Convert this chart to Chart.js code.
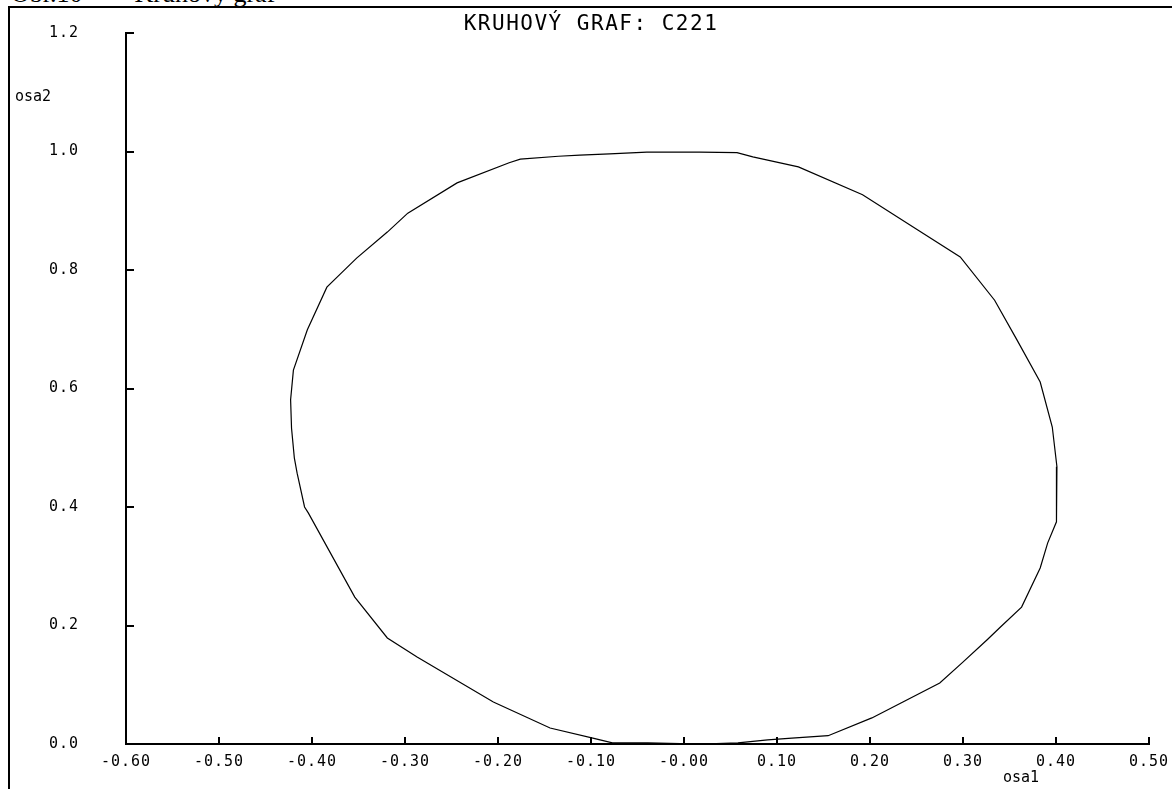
<!DOCTYPE html>
<html><head><meta charset="utf-8">
<script src="https://cdn.jsdelivr.net/npm/chart.js@4"></script>
<style>
html,body{margin:0;padding:0;background:#fff;overflow:hidden;}
#wrap{position:relative;width:1172px;height:789px;overflow:hidden;background:#fff;}
#frame{position:absolute;left:8px;top:6px;right:-10px;bottom:-10px;border-left:2px solid #000;border-top:2px solid #000;}
#caption{position:absolute;left:11px;top:-19px;font:26px 'Liberation Serif',serif;line-height:26px;white-space:pre;color:#000;}
canvas{position:absolute;left:0;top:0;}
</style></head><body>
<div id="wrap"><div id="caption">Obr.10    –  Kruhový graf</div><div id="frame"></div><canvas id="c" width="1172" height="789"></canvas></div>
<script>
const xValues = [0.017,0.057,0.074,0.123,0.192,0.251,0.297,0.334,0.358,0.383,0.396,0.401,0.401,0.400,0.391,0.383,0.363,0.340,0.326,0.299,0.275,0.202,0.155,0.116,0.090,0.058,0.019,-0.039,-0.077,-0.098,-0.144,-0.205,-0.287,-0.319,-0.354,-0.404,-0.408,-0.416,-0.419,-0.422,-0.423,-0.420,-0.405,-0.384,-0.373,-0.352,-0.319,-0.297,-0.244,-0.188,-0.176,-0.135,-0.112,-0.080,-0.040];
const yValues = [0.999,0.998,0.991,0.974,0.927,0.868,0.822,0.749,0.682,0.611,0.535,0.468,0.420,0.375,0.339,0.297,0.231,0.197,0.176,0.137,0.103,0.044,0.014,0.010,0.007,0.002,0.000,0.002,0.002,0.010,0.027,0.071,0.147,0.179,0.248,0.390,0.400,0.457,0.483,0.533,0.581,0.631,0.699,0.771,0.788,0.820,0.864,0.896,0.947,0.981,0.987,0.992,0.994,0.996,0.999];
const xTickLabels = ["-0.60","-0.50","-0.40","-0.30","-0.20","-0.10","-0.00","0.10","0.20","0.30","0.40","0.50"];
const yTickLabels = ["0.0","0.2","0.4","0.6","0.8","1.0","1.2"];
const chartTitle = "KRUHOVÝ GRAF: C221";
const xAxisTitle = "osa1";
const yAxisTitle = "osa2";

const points = xValues.map((x, i) => ({x: x, y: yValues[i]}));
points.push(points[0]);

const FONT = "'DejaVu Sans Mono', monospace";

const decor = {
  id: 'decor',
  beforeUpdate(chart) { chart.ctx.letterSpacing = '1px'; },
  beforeDraw(chart) { chart.ctx.letterSpacing = '1px'; },
  afterDraw(chart) {
    const ctx = chart.ctx, xs = chart.scales.x, ys = chart.scales.y, a = chart.chartArea;
    ctx.save();
    ctx.strokeStyle = '#000';
    ctx.lineWidth = 2;
    ctx.beginPath();
    xs.ticks.forEach((t, i) => {
      if (i === 0) return;
      const px = Math.round(xs.getPixelForTick(i));
      ctx.moveTo(px, a.bottom);
      ctx.lineTo(px, a.bottom - 7);
    });
    ys.ticks.forEach((t, i) => {
      if (i === 0) return;
      const py = Math.round(ys.getPixelForTick(i));
      ctx.moveTo(a.left, py);
      ctx.lineTo(a.left + 8, py);
    });
    ctx.stroke();
    ctx.fillStyle = '#000';
    ctx.letterSpacing = '1.5px';
    ctx.font = "21px " + FONT;
    ctx.textAlign = 'center';
    ctx.textBaseline = 'middle';
    ctx.fillText(chartTitle, 591, 25);
    ctx.letterSpacing = '0px';
    ctx.font = "15px " + FONT;
    ctx.textAlign = 'left';
    ctx.fillText(yAxisTitle, 15, 97);
    ctx.fillText(xAxisTitle, 1003, 778);
    ctx.restore();
  }
};

new Chart(document.getElementById('c'), {
  type: 'scatter',
  data: {
    datasets: [{
      data: points,
      showLine: true,
      borderColor: '#000',
      borderWidth: 1.2,
      pointRadius: 0,
      pointHoverRadius: 0,
      fill: false,
      tension: 0,
      clip: false
    }]
  },
  options: {
    responsive: false,
    animation: false,
    devicePixelRatio: 1,
    events: [],
    layout: {padding: {top: 33, right: 23, left: 0, bottom: 0}},
    plugins: {legend: {display: false}, title: {display: false}, tooltip: {enabled: false}},
    scales: {
      x: {
        type: 'linear', min: -0.6, max: 0.5,
        grid: {display: false, drawTicks: false},
        border: {display: true, color: '#000', width: 2},
        ticks: {stepSize: 0.1, autoSkip: false, maxRotation: 0, padding: 9, color: '#000',
          font: {family: FONT, size: 15}, callback: (v, i) => xTickLabels[i]},
        afterFit(s) { s.height = 45; s.paddingLeft = 0; s.paddingRight = 0; }
      },
      y: {
        type: 'linear', min: 0, max: 1.2,
        grid: {display: false, drawTicks: false},
        border: {display: true, color: '#000', width: 2},
        ticks: {stepSize: 0.2, autoSkip: false, padding: 47, color: '#000',
          font: {family: FONT, size: 15}, callback: (v, i) => yTickLabels[i]},
        afterFit(s) { s.width = 126; s.paddingTop = 0; s.paddingBottom = 0; }
      }
    }
  },
  plugins: [decor]
});
</script>
</body></html>
